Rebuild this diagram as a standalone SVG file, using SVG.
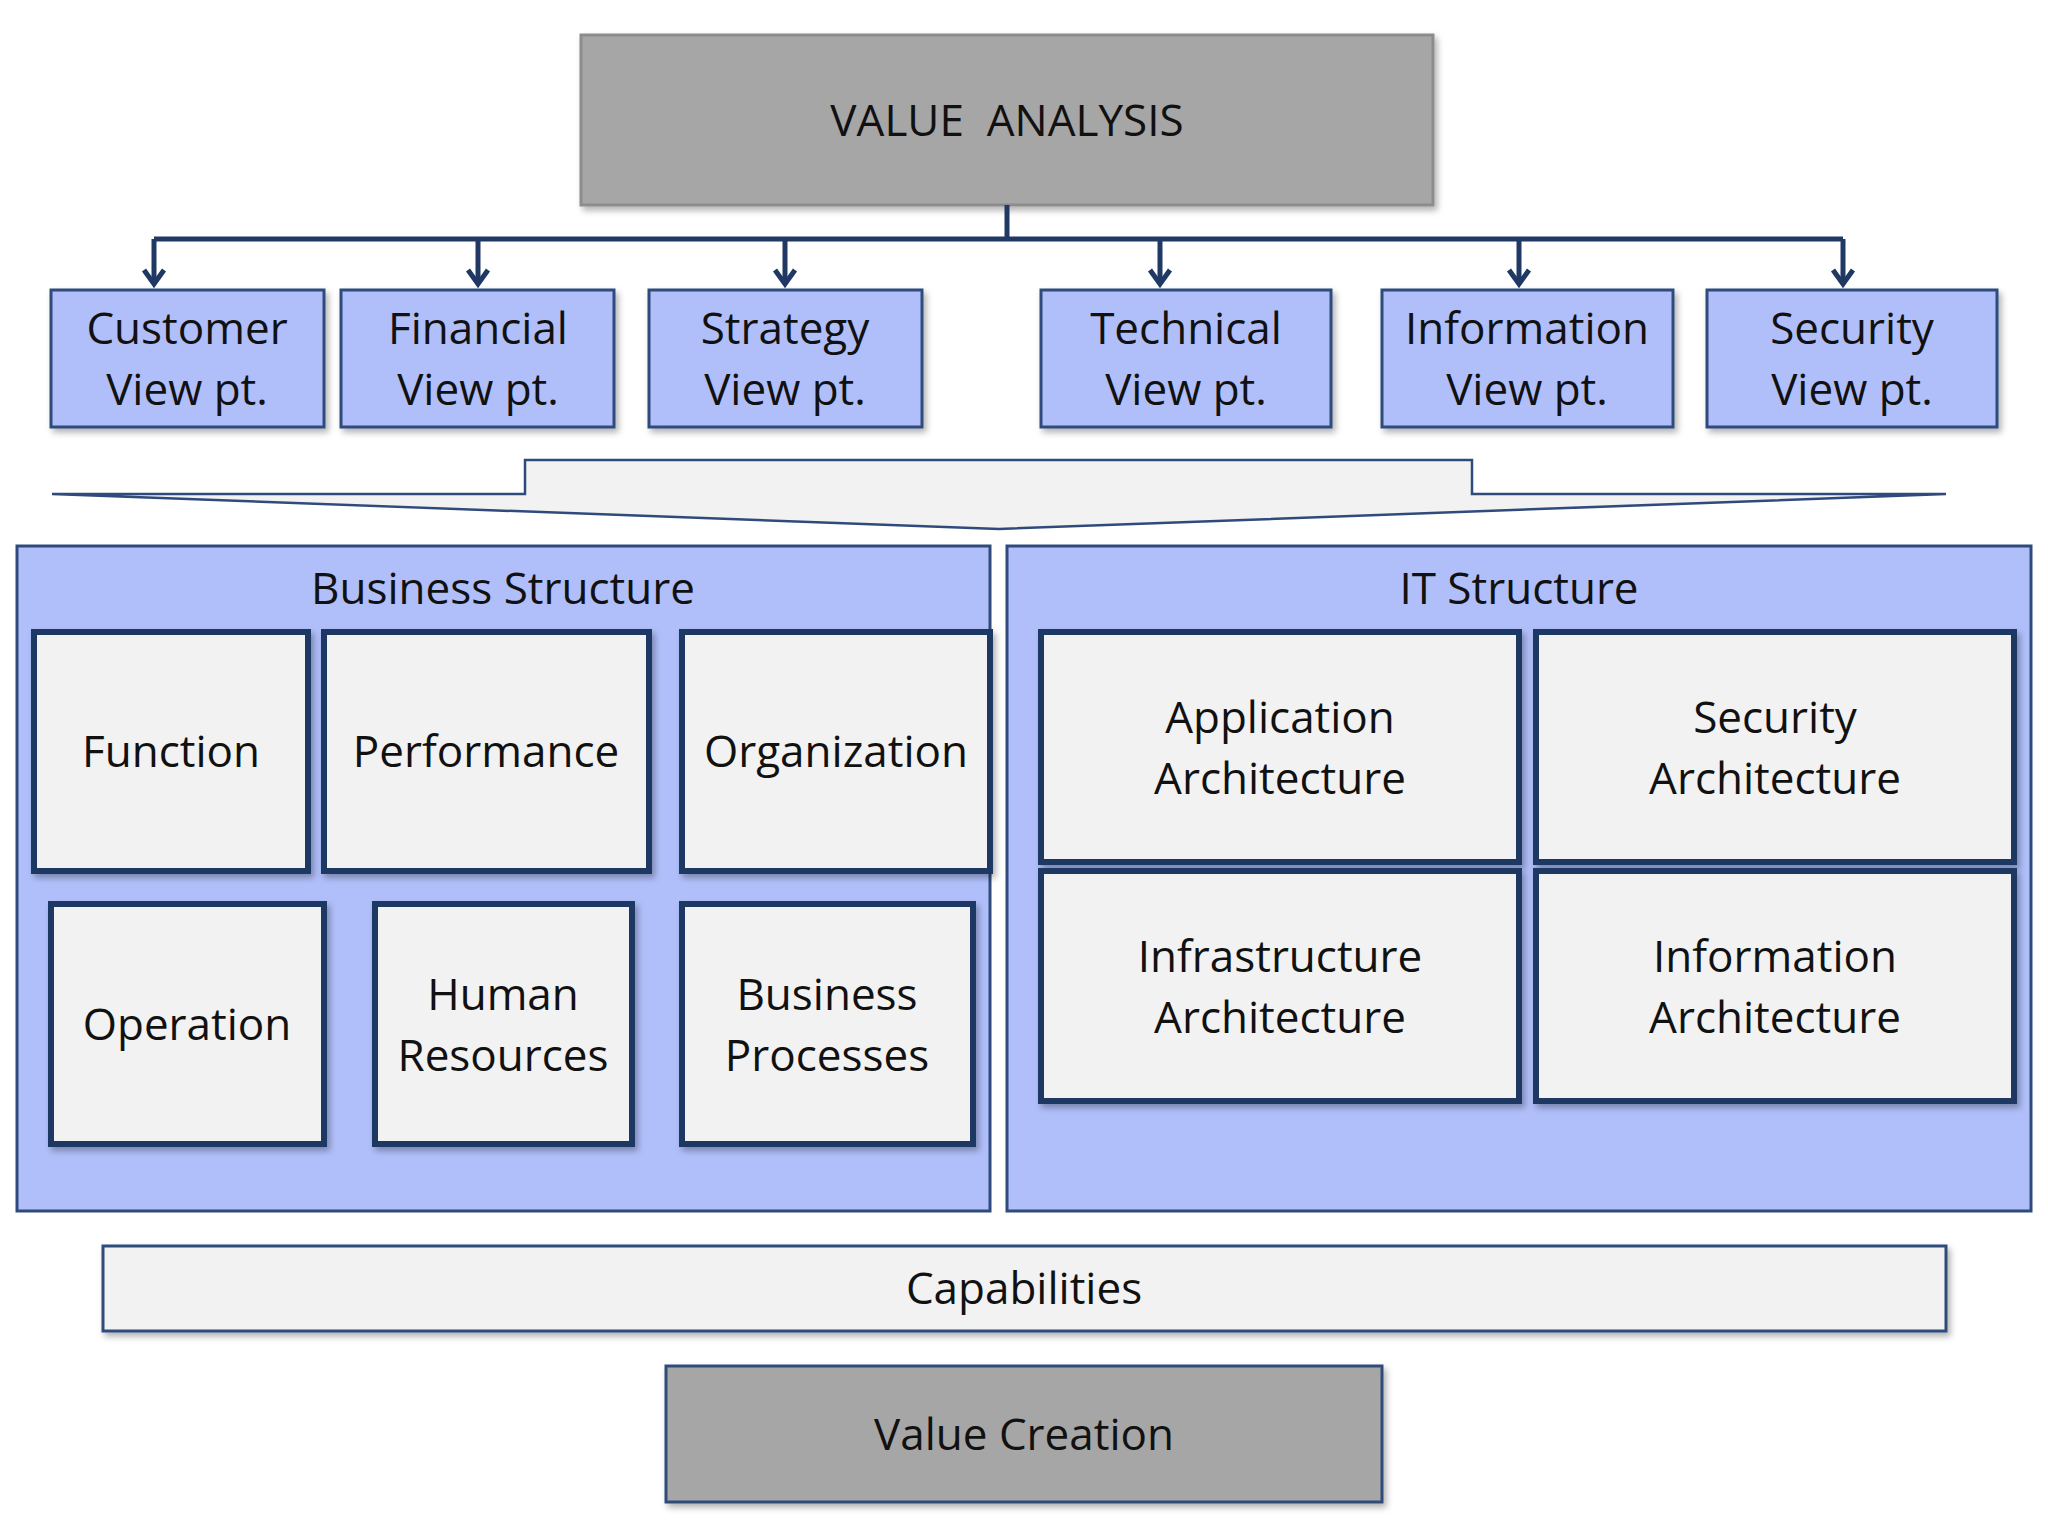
<svg xmlns="http://www.w3.org/2000/svg" width="2048" height="1536" viewBox="0 0 2048 1536">
<style>
text{font-family:"Open Sans","Liberation Sans",sans-serif;font-size:44px;fill:#111;text-anchor:middle}
.gray{fill:#a6a6a6;stroke:#8c8c8c;stroke-width:3}
.vp{fill:#b0bffa;stroke:#2f4b7c;stroke-width:3}
.panel{fill:#b0bffa;stroke:#2f4b7c;stroke-width:3}
.box{fill:#f2f2f2;stroke:#1f3864;stroke-width:6}
.light{fill:#f2f2f2;stroke:#2f4b7c;stroke-width:3}
.conn{fill:none;stroke:#1f3864;stroke-width:5}
</style>
<defs>
<filter id="sh" x="-5%" y="-5%" width="115%" height="120%"><feDropShadow dx="3" dy="4" stdDeviation="3" flood-color="#000" flood-opacity="0.3"/></filter>
<marker id="ah" viewBox="0 0 20 20" refX="10" refY="18" markerWidth="5" markerHeight="5" orient="auto-start-reverse" markerUnits="userSpaceOnUse"><path d="M1,6 L10,18 L19,6" fill="none" stroke="#1f3864" stroke-width="3"/></marker>
</defs>
<rect width="2048" height="1536" fill="#fff"/>
<g id="value-analysis"><rect class="gray" x="581" y="35" width="852" height="170" filter="url(#sh)"/><text x="1007" y="136" xml:space="preserve">VALUE  ANALYSIS</text></g>
<g id="connectors">
<path class="conn" d="M1007,205 V239 M154,239 H1843"/>
<g stroke="#1f3864" stroke-width="5" fill="none">
<path d="M154,239 V284"/><path d="M478,239 V284"/><path d="M785,239 V284"/><path d="M1160,239 V284"/><path d="M1519,239 V284"/><path d="M1843,239 V284"/>
<path d="M144,270 L154,284 L164,270"/><path d="M468,270 L478,284 L488,270"/><path d="M775,270 L785,284 L795,270"/><path d="M1150,270 L1160,284 L1170,270"/><path d="M1509,270 L1519,284 L1529,270"/><path d="M1833,270 L1843,284 L1853,270"/>
</g>
</g>
<g id="vp-customer"><rect class="vp" x="51" y="290" width="273" height="137" filter="url(#sh)"/><text x="187" y="344">Customer</text><text x="187" y="405">View pt.</text></g>
<g id="vp-financial"><rect class="vp" x="341" y="290" width="273" height="137" filter="url(#sh)"/><text x="478" y="344">Financial</text><text x="478" y="405">View pt.</text></g>
<g id="vp-strategy"><rect class="vp" x="649" y="290" width="273" height="137" filter="url(#sh)"/><text x="785" y="344">Strategy</text><text x="785" y="405">View pt.</text></g>
<g id="vp-technical"><rect class="vp" x="1041" y="290" width="290" height="137" filter="url(#sh)"/><text x="1186" y="344">Technical</text><text x="1186" y="405">View pt.</text></g>
<g id="vp-information"><rect class="vp" x="1382" y="290" width="291" height="137" filter="url(#sh)"/><text x="1527" y="344">Information</text><text x="1527" y="405">View pt.</text></g>
<g id="vp-security"><rect class="vp" x="1707" y="290" width="290" height="137" filter="url(#sh)"/><text x="1852" y="344">Security</text><text x="1852" y="405">View pt.</text></g>
<g id="funnel"><polygon points="52,494 525,494 525,460 1472,460 1472,494 1946,494 999,529" fill="#f2f2f2" stroke="#2f4b7c" stroke-width="2.5"/></g>
<g id="business-structure"><rect class="panel" x="17" y="546" width="973" height="665"/><text x="503" y="604">Business Structure</text></g>
<g id="it-structure"><rect class="panel" x="1007" y="546" width="1024" height="665"/><text x="1519" y="604">IT Structure</text></g>
<g id="function"><rect class="box" x="34" y="632" width="274" height="239" filter="url(#sh)"/><text x="171" y="767">Function</text></g>
<g id="performance"><rect class="box" x="324" y="632" width="325" height="239" filter="url(#sh)"/><text x="486" y="767">Performance</text></g>
<g id="organization"><rect class="box" x="682" y="632" width="308" height="239" filter="url(#sh)"/><text x="836" y="767">Organization</text></g>
<g id="operation"><rect class="box" x="51" y="904" width="273" height="240" filter="url(#sh)"/><text x="187" y="1040">Operation</text></g>
<g id="human-resources"><rect class="box" x="375" y="904" width="257" height="240" filter="url(#sh)"/><text x="503" y="1010">Human</text><text x="503" y="1071">Resources</text></g>
<g id="business-processes"><rect class="box" x="682" y="904" width="291" height="240" filter="url(#sh)"/><text x="827" y="1010">Business</text><text x="827" y="1071">Processes</text></g>
<g id="application-arch"><rect class="box" x="1041" y="632" width="478" height="230" filter="url(#sh)"/><text x="1280" y="733">Application</text><text x="1280" y="794">Architecture</text></g>
<g id="security-arch"><rect class="box" x="1536" y="632" width="478" height="230" filter="url(#sh)"/><text x="1775" y="733">Security</text><text x="1775" y="794">Architecture</text></g>
<g id="infrastructure-arch"><rect class="box" x="1041" y="871" width="478" height="230" filter="url(#sh)"/><text x="1280" y="972">Infrastructure</text><text x="1280" y="1033">Architecture</text></g>
<g id="information-arch"><rect class="box" x="1536" y="871" width="478" height="230" filter="url(#sh)"/><text x="1775" y="972">Information</text><text x="1775" y="1033">Architecture</text></g>
<g id="capabilities"><rect class="light" x="103" y="1246" width="1843" height="85" filter="url(#sh)"/><text x="1024" y="1304">Capabilities</text></g>
<g id="value-creation"><rect class="gray" x="666" y="1366" width="716" height="136" filter="url(#sh)" style="stroke:#2f4b7c"/><text x="1024" y="1450">Value Creation</text></g>
</svg>
